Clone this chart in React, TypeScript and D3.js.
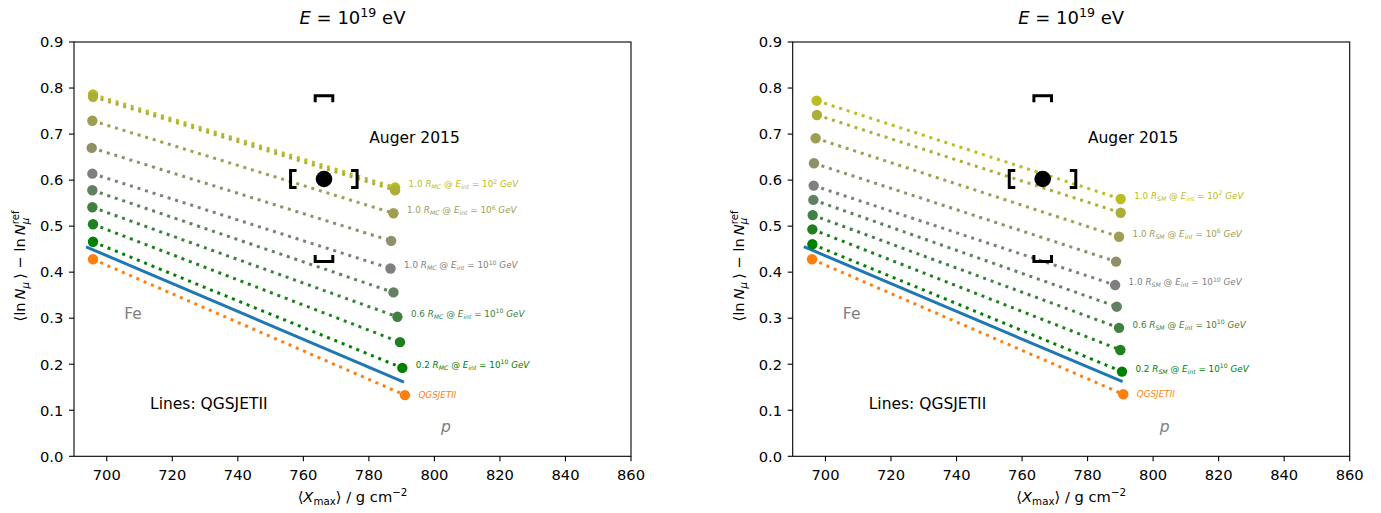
import React from 'react';
import * as d3 from 'd3';

// ---------- data ----------
const X_DOMAIN = [690, 860];
const Y_DOMAIN = [0, 0.9];
const X_TICKS = [700, 720, 740, 760, 780, 800, 820, 840, 860];
const Y_TICKS = [0.0, 0.1, 0.2, 0.3, 0.4, 0.5, 0.6, 0.7, 0.8, 0.9];
const Y_TICK_LABELS = ['0.0', '0.1', '0.2', '0.3', '0.4', '0.5', '0.6', '0.7', '0.8', '0.9'];

// series: 1.0R@1e2, 1.0R@1e4, 1.0R@1e6, 1.0R@1e8, 1.0R@1e10, 0.8R@1e10, 0.6R@1e10, 0.4R@1e10, 0.2R@1e10, QGSJETII
const SERIES_COLORS = ['#bcbd22', '#adad39', '#9e9e51', '#8f8f68', '#7f7f7f', '#608060', '#408040', '#208020', '#008000', '#ff7f0e'];
const QGS_LINE_COLOR = '#1f77b4';

// left panel (R_MC)
const MC_FE_X = [695.8, 695.8, 695.6, 695.4, 695.6, 695.6, 695.6, 695.8, 695.8, 695.8];
const MC_FE_Y = [0.786, 0.781, 0.729, 0.670, 0.614, 0.578, 0.541, 0.504, 0.466, 0.428];
const MC_P_X = [788.0, 788.0, 787.5, 786.8, 786.6, 787.5, 788.7, 789.5, 790.2, 791.0];
const MC_P_Y = [0.584, 0.578, 0.528, 0.468, 0.408, 0.356, 0.303, 0.248, 0.192, 0.133];
const MC_QGS_LINE_X = [693.7, 790.7];
const MC_QGS_LINE_Y = [0.455, 0.161];

// right panel (R_SM)
const SM_FE_X = [697.3, 697.4, 697.0, 696.5, 696.4, 696.3, 696.1, 696.0, 696.0, 695.9];
const SM_FE_Y = [0.7725, 0.7415, 0.691, 0.6365, 0.588, 0.557, 0.524, 0.493, 0.4606, 0.428];
const SM_P_X = [790.1, 790.1, 789.6, 788.7, 788.4, 788.9, 789.6, 790.0, 790.5, 790.9];
const SM_P_Y = [0.559, 0.529, 0.477, 0.423, 0.372, 0.325, 0.279, 0.231, 0.184, 0.1347];
const SM_QGS_LINE_X = [693.4, 790.7];
const SM_QGS_LINE_Y = [0.4554, 0.162];

// labelled series
const LABEL_INDEX = [0, 2, 4, 6, 8];
const LABEL_FACTOR = ['1.0', '1.0', '1.0', '0.6', '0.2'];
const LABEL_EXP = ['2', '6', '10', '10', '10'];
const QGS_LABEL = 'QGSJETII';

// Auger 2015 point
const AUGER_X = 766.3;
const AUGER_Y = 0.6024;
const AUGER_SYS_X = [756.1, 776.4];
const AUGER_SYS_Y = [0.423, 0.783];

// annotations (data coords)
const ANN_FE = [705.3, 0.298];
const ANN_P = [802.0, 0.052];
const ANN_LINES = [713.2, 0.103];
const ANN_AUGER = [780.1, 0.68];

// ---------- layout ----------
const FONT = 'DejaVu Sans, sans-serif';
const PANEL_TOP = 42;
const PANEL_W = 557;
const PANEL_H = 414.3;
const PANEL_LEFTS = [74, 792.7];

type Seg = { t: string; it?: boolean; pos?: 'sub' | 'sup'; dx?: number };

function rich(segs: Seg[], fs: number) {
  let cur = 0;
  return segs.map((s, i) => {
    const target = s.pos === 'sub' ? 0.22 * fs : s.pos === 'sup' ? -0.4 * fs : 0;
    const dy = target - cur;
    cur = target;
    return (
      <tspan key={i} dy={dy} dx={s.dx || 0} fontStyle={s.it ? 'italic' : 'normal'} fontSize={s.pos ? fs * 0.7 : fs}>
        {s.t}
      </tspan>
    );
  });
}

function Panel({ left, R, feX, feY, pX, pY, lineX, lineY }: any) {
  const x = d3.scaleLinear().domain(X_DOMAIN).range([0, PANEL_W]);
  const y = d3.scaleLinear().domain(Y_DOMAIN).range([PANEL_H, 0]);
  const line = d3.line<number>().x((d) => x(d[0])).y((d) => y(d[1]));
  const n = feX.length;
  const lfs = 8.8;
  const ax = x(AUGER_X), ay = y(AUGER_Y);
  const bw = 8.8, bl = 6.5, sh = 8.5, sl = 6;
  const tx = x(AUGER_SYS_X[0]), tx2 = x(AUGER_SYS_X[1]);
  const ty = y(AUGER_SYS_Y[1]), ty2 = y(AUGER_SYS_Y[0]);
  return (
    <g transform={`translate(${left},${PANEL_TOP})`} fontFamily={FONT}>
      {/* title */}
      <text x={PANEL_W / 2} y={-17.7} textAnchor="middle" fontSize={18} fill="#000" style={{ whiteSpace: 'pre' }}>
        {rich([{ t: 'E', it: true }, { t: ' = 10' }, { t: '19', pos: 'sup' }, { t: ' eV' }], 18)}
      </text>
      {/* dotted series lines */}
      {d3.range(n).map((i) => (
        <path key={'l' + i} d={line([[feX[i], feY[i]], [pX[i], pY[i]]]) || ''} stroke={SERIES_COLORS[i]} strokeWidth={3} strokeDasharray="3 4.9" fill="none" />
      ))}
      {/* QGSJETII solid line */}
      <path d={line([[lineX[0], lineY[0]], [lineX[1], lineY[1]]]) || ''} stroke={QGS_LINE_COLOR} strokeWidth={3} fill="none" />
      {/* points */}
      {d3.range(n).map((i) => (
        <g key={'p' + i}>
          <circle cx={x(feX[i])} cy={y(feY[i])} r={5.2} fill={SERIES_COLORS[i]} />
          <circle cx={x(pX[i])} cy={y(pY[i])} r={5.2} fill={SERIES_COLORS[i]} />
        </g>
      ))}
      {/* series labels */}
      {LABEL_INDEX.map((idx, k) => (
        <text key={'t' + k} x={x(pX[idx]) + 13.5} y={y(pY[idx])} dy={3} fontSize={lfs} fill={SERIES_COLORS[idx]} style={{ whiteSpace: 'pre' }}>
          {rich([
            { t: LABEL_FACTOR[k] + ' ' },
            { t: 'R', it: true },
            { t: R, it: true, pos: 'sub' },
            { t: ' @ ' },
            { t: 'E', it: true },
            { t: 'int', it: true, pos: 'sub' },
            { t: ' = 10' },
            { t: LABEL_EXP[k], pos: 'sup' },
            { t: ' GeV', it: true },
          ], lfs)}
        </text>
      ))}
      <text x={x(pX[9]) + 13.5} y={y(pY[9])} dy={3} fontSize={lfs} fontStyle="italic" fill={SERIES_COLORS[9]}>{QGS_LABEL}</text>
      {/* Auger */}
      <circle cx={ax} cy={ay} r={8.3} fill="#000" />
      <g stroke="#000" strokeWidth={3} fill="none">
        <path d={`M${ax - bw},${ty + bl}L${ax - bw},${ty}L${ax + bw},${ty}L${ax + bw},${ty + bl}`} />
        <path d={`M${ax - bw},${ty2 - bl}L${ax - bw},${ty2}L${ax + bw},${ty2}L${ax + bw},${ty2 - bl}`} />
        <path d={`M${tx + sl},${ay - sh}L${tx},${ay - sh}L${tx},${ay + sh}L${tx + sl},${ay + sh}`} />
        <path d={`M${tx2 - sl},${ay - sh}L${tx2},${ay - sh}L${tx2},${ay + sh}L${tx2 - sl},${ay + sh}`} />
      </g>
      {/* annotations */}
      <text x={x(ANN_AUGER[0])} y={y(ANN_AUGER[1])} fontSize={15.5} fill="#000">Auger 2015</text>
      <text x={x(ANN_LINES[0])} y={y(ANN_LINES[1])} fontSize={15.5} fill="#000">Lines: QGSJETII</text>
      <text x={x(ANN_FE[0])} y={y(ANN_FE[1])} fontSize={15.5} fill="#808080">Fe</text>
      <text x={x(ANN_P[0])} y={y(ANN_P[1])} fontSize={15.5} fontStyle="italic" fill="#808080">p</text>
      {/* axes frame */}
      <rect x={0} y={0} width={PANEL_W} height={PANEL_H} fill="none" stroke="#000" strokeWidth={1.1} />
      {/* x ticks */}
      {X_TICKS.map((t) => (
        <g key={'xt' + t} transform={`translate(${x(t)},${PANEL_H})`}>
          <line y1={0} y2={5} stroke="#000" strokeWidth={1.1} />
          <text y={23.7} textAnchor="middle" fontSize={14.7} fill="#000">{t}</text>
        </g>
      ))}
      {/* y ticks */}
      {Y_TICKS.map((t, i) => (
        <g key={'yt' + i} transform={`translate(0,${y(t)})`}>
          <line x1={0} x2={-5} stroke="#000" strokeWidth={1.1} />
          <text x={-10.7} dy="0.36em" textAnchor="end" fontSize={14.7} fill="#000">{Y_TICK_LABELS[i]}</text>
        </g>
      ))}
      {/* x label */}
      <text x={PANEL_W / 2} y={PANEL_H + 45.7} textAnchor="middle" fontSize={14.7} fill="#000" style={{ whiteSpace: 'pre' }}>
        {rich([
          { t: '\u27E8' },
          { t: 'X', it: true },
          { t: 'max', pos: 'sub' },
          { t: '\u27E9 / g cm' },
          { t: '\u22122', pos: 'sup' },
        ], 14.7)}
      </text>
      {/* y label */}
      <text transform={`translate(${25.3 - 74},${266 - PANEL_TOP}) rotate(-90)`} textAnchor="middle" fontSize={14.7} fill="#000" style={{ whiteSpace: 'pre' }}>
        {rich([
          { t: '\u27E8ln\u2009' },
          { t: 'N', it: true },
          { t: '\u03BC', it: true, pos: 'sub' },
          { t: '\u2009\u27E9 \u2212 ln\u2009' },
          { t: 'N', it: true },
          { t: '\u03BC', it: true, pos: 'sub' },
          { t: 'ref', pos: 'sup', dx: -0.636 * 0.7 * 14.7 },
        ], 14.7)}
      </text>
    </g>
  );
}

export default function App() {
  return (
    <svg width={1381} height={513} style={{ position: 'absolute', left: 0, top: 0, background: '#fff' }}>
      <rect width={1381} height={513} fill="#fff" />
      <Panel left={PANEL_LEFTS[0]} R="MC" feX={MC_FE_X} feY={MC_FE_Y} pX={MC_P_X} pY={MC_P_Y} lineX={MC_QGS_LINE_X} lineY={MC_QGS_LINE_Y} />
      <Panel left={PANEL_LEFTS[1]} R="SM" feX={SM_FE_X} feY={SM_FE_Y} pX={SM_P_X} pY={SM_P_Y} lineX={SM_QGS_LINE_X} lineY={SM_QGS_LINE_Y} />
    </svg>
  );
}
